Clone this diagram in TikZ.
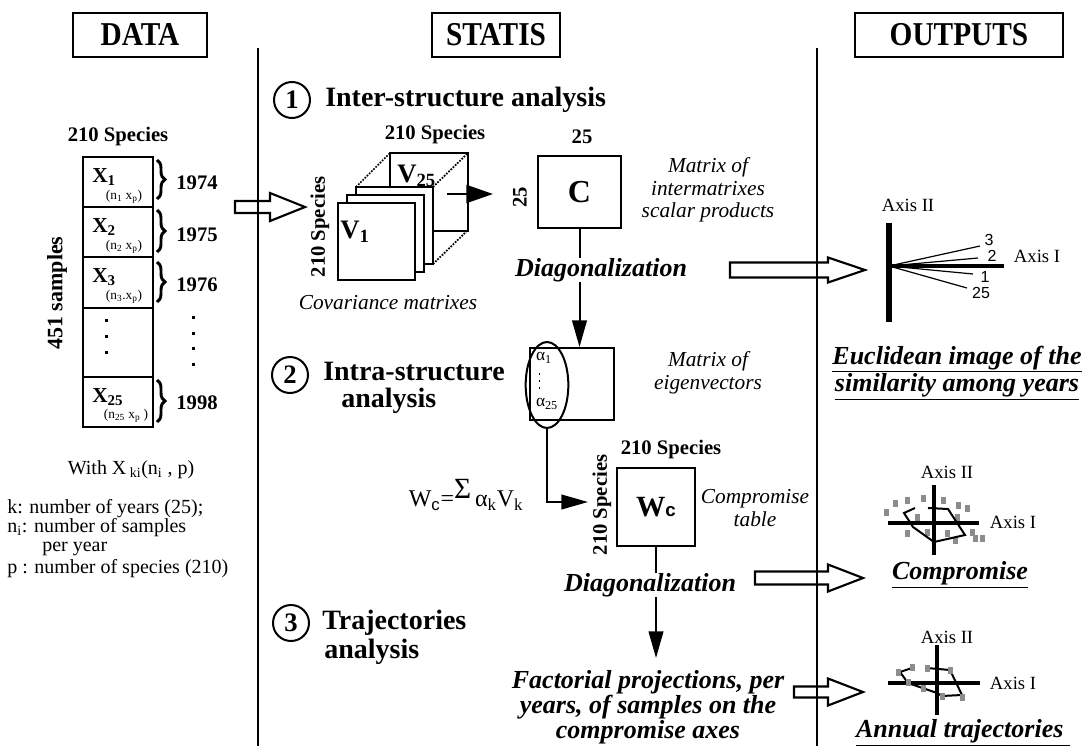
\documentclass[tikz,border=0pt]{standalone}
\usepackage{fontspec}
\setmainfont{Liberation Serif}
\setsansfont{Liberation Sans}
\usepackage{graphicx}
\usetikzlibrary{arrows.meta,shapes.geometric,decorations.pathreplacing}
\newcommand{\fsz}[2]{\fontsize{#1}{#2}\selectfont}
\newcommand{\harrow}[6]{\draw[hollow] (#1,#4-#5) -- (#2,#4-#5) -- (#2,#4-#6) -- (#3,#4) -- (#2,#4+#6) -- (#2,#4+#5) -- (#1,#4+#5) -- cycle;}
\tikzset{
  hdr/.style={draw, line width=1.5pt, inner sep=0pt, minimum height=33pt, font=\fsz{25}{25}\bfseries},
  lbl/.style={inner sep=0pt, font=\fsz{15.5}{18}\bfseries},
  ital/.style={inner sep=0pt, align=center, font=\fsz{16}{17}\itshape},
  bi/.style={inner sep=0pt, align=center, font=\fsz{19.5}{17}\bfseries\itshape},
  bix/.style={inner sep=0pt, align=center, font=\fsz{19.5}{19}\bfseries\itshape},
  box/.style={draw, line width=1.5pt, fill=white, inner sep=0pt},
  num/.style={circle, draw, line width=1.5pt, minimum size=27pt, inner sep=0pt, font=\fsz{20}{20}\bfseries},
  head/.style={inner sep=0pt, anchor=west, font=\fsz{21}{21}\bfseries},
  head2/.style={inner sep=0pt, anchor=north west, align=left, font=\fsz{21}{20.5}\bfseries},
  axisln/.style={line width=3.5pt},
  thinln/.style={line width=0.9pt},
  traj/.style={line width=1.5pt, line join=miter},
  gsq/.style={fill=black!45},
  hollow/.style={draw, line width=1.6pt, fill=white, line join=miter},
  arr/.style={line width=1.5pt, -{Triangle[length=20pt,width=11pt]}},
  axlbl/.style={inner sep=0pt, font=\fsz{14}{14}},
  txt/.style={inner sep=0pt, anchor=west, font=\fsz{15}{15}},
  sml/.style={inner sep=0pt, font=\fsz{10}{10}},
  dotm/.style={fill=black},
  brc/.style={line width=2.2pt, decorate, decoration={brace, amplitude=6pt}},
}
\begin{document}
\begin{tikzpicture}[x=0.75pt,y=-0.75pt]
\useasboundingbox (0,0) rectangle (1085,746);
\fill[white] (0,0) rectangle (1085,746);

% ---------- headers
\node[hdr, minimum width=100pt] (hdata) at (140,35) {\scalebox{0.88}[1]{DATA}};
\node[hdr, minimum width=96pt] (hstatis) at (496,35) {\scalebox{0.88}[1]{STATIS}};
\node[hdr, minimum width=156pt] (houtputs) at (959,35) {\scalebox{0.88}[1]{OUTPUTS}};

% ---------- hollow block arrows (drawn below separators)
\harrow{235}{270}{305}{207}{6}{14}
\harrow{730}{828}{865}{270}{7.5}{12.5}
\harrow{755}{828}{863}{578}{6.5}{13.5}
\harrow{794}{828}{863}{692}{5.5}{13.5}

% ---------- separators
\coordinate (sepAt) at (258,48); \coordinate (sepAb) at (258,746);
\coordinate (sepBt) at (817,48); \coordinate (sepBb) at (817,746);
\draw[line width=1.5pt] (sepAt) -- (sepAb);
\draw[line width=1.5pt] (sepBt) -- (sepBb);

% ---------- DATA column
\node[lbl] (sp0) at (118,137) {210 Species};
\node[box, minimum width=52.5pt, minimum height=37.5pt] (r1) at (118,182) {};
\node[box, minimum width=52.5pt, minimum height=37.5pt] (r2) at (118,232) {};
\node[box, minimum width=52.5pt, minimum height=38.25pt] (r3) at (118,282.5) {};
\node[box, minimum width=52.5pt, minimum height=51.75pt] (r4) at (118,342.5) {};
\node[box, minimum width=52.5pt, minimum height=37.5pt] (r5) at (118,402) {};
\node[inner sep=0pt, anchor=base west, font=\fsz{16}{16}\bfseries] (x1) at (92,182) {X\textsubscript{1}};
\node[inner sep=0pt, anchor=base west, font=\fsz{16}{16}\bfseries] (x2) at (92,232) {X\textsubscript{2}};
\node[inner sep=0pt, anchor=base west, font=\fsz{16}{16}\bfseries] (x3) at (92,282) {X\textsubscript{3}};
\node[inner sep=0pt, anchor=base west, font=\fsz{16}{16}\bfseries] (x25) at (92,402) {X\textsubscript{25}};
\node[sml] (n1) at (124,197) {(n\textsubscript{1} x\textsubscript{p})};
\node[sml] (n2) at (124,247) {(n\textsubscript{2} x\textsubscript{p})};
\node[sml] (n3) at (124,297) {(n\textsubscript{3}.x\textsubscript{p})};
\node[sml] (n25) at (126,416) {(n\textsubscript{25} x\textsubscript{p} )};
\foreach \yy in {320,336,352} \fill[dotm] (104.5,\yy-1.5) rectangle (107.5,\yy+1.5);
\foreach \yy in {317,333,348,364} \fill[dotm] (191.5,\yy-1.5) rectangle (194.5,\yy+1.5);
\coordinate (b1t) at (157,160); \coordinate (b1b) at (157,199);
\coordinate (b2t) at (157,210); \coordinate (b2b) at (157,252);
\coordinate (b3t) at (157,262); \coordinate (b3b) at (157,302);
\coordinate (b5t) at (157,380); \coordinate (b5b) at (157,422);
\draw[brc] (b1t) -- (b1b);
\draw[brc] (b2t) -- (b2b);
\draw[brc] (b3t) -- (b3b);
\draw[brc] (b5t) -- (b5b);
\node[lbl] (y74) at (197,183) {1974};
\node[lbl] (y75) at (197,235) {1975};
\node[lbl] (y76) at (197,285) {1976};
\node[lbl] (y98) at (197,403) {1998};
\node[inner sep=0pt, rotate=90, font=\fsz{16.5}{16.5}\bfseries] (s451) at (57,293) {451 samples};
\node[inner sep=0pt, font=\fsz{15}{15}] (withx) at (131,470) {With X\,\textsubscript{ki}(n\textsubscript{i} , p)};
\node[txt] (tk) at (7,509) {k: number of years (25);};
\node[txt] (tn) at (7,528) {n\textsubscript{i}: number of samples};
\node[txt] (tpy) at (42,549) {per year};
\node[txt] (tp) at (7,569) {p : number of species (210)};

% ---------- STATIS column: section 1
\node[num] (c1) at (292,100) {1};
\node[head] (h1) at (325,100) {Inter-structure analysis};

% covariance stack
\node[box, minimum size=58.5pt] (v25) at (429,191.5) {};
\coordinate (d1a) at (356,187); \coordinate (d1b) at (390,153);
\coordinate (d2a) at (433,187); \coordinate (d2b) at (468,153);
\coordinate (d3a) at (433,264); \coordinate (d3b) at (468,230);
\draw[line width=1.3pt, densely dotted] (d1a) -- (d1b);
\draw[line width=1.3pt, densely dotted] (d2a) -- (d2b);
\draw[line width=1.3pt, densely dotted] (d3a) -- (d3b);
\node[box, minimum size=57.75pt] (v3) at (394.5,225.5) {};
\node[box, minimum size=57.75pt] (v2) at (385.5,233.5) {};
\node[box, minimum size=57.75pt] (v1) at (376.5,241.5) {};
\node[inner sep=0pt, anchor=base west, font=\fsz{20}{20}\bfseries] (lv25) at (397,182) {V\textsubscript{25}};
\node[inner sep=0pt, anchor=base west, font=\fsz{20}{20}\bfseries] (lv1) at (340,238) {V\textsubscript{1}};
\coordinate (stin) at (447,194); \coordinate (stout) at (493,194);
\draw[line width=1.5pt, -{Triangle[length=20pt,width=13.5pt]}] (stin) -- (stout);
\node[lbl] (sp1) at (435,135) {210 Species};
\node[lbl, rotate=90] (sp1r) at (320,227) {210 Species};
\node[ital] (cov) at (388,303) {Covariance matrixes};

% C matrix
\node[box, minimum width=62.25pt, minimum height=54pt, font=\fsz{24}{24}\bfseries] (cbox) at (579.5,192) {C};
\node[lbl] (c25t) at (582,137) {25};
\node[lbl, rotate=90] (c25l) at (520,197) {25};
\node[ital] (mint) at (708,190) {Matrix of\\intermatrixes\\scalar products};
\node[bi] (diag1) at (601,270) {Diagonalization};
\draw[line width=1.5pt] (cbox.south) -- (cbox.south |- diag1.north);

% eigenvector matrix
\node[box, minimum width=63pt, minimum height=54pt] (eig) at (572,384) {};
\draw[arr] (cbox.south |- diag1.south) -- (cbox.south |- eig.north);
\node[ellipse, draw, line width=1.5pt, minimum width=32pt, minimum height=64.5pt, inner sep=0pt] (ell) at (547,385) {};
\node[inner sep=0pt, font=\fsz{13}{13}] (a1) at (544,358) {α\textsubscript{1}};
\foreach \yy in {374,381,388} \fill[dotm] (538.5,\yy-0.8) rectangle (540.2,\yy+0.8);
\node[inner sep=0pt, font=\fsz{13}{13}] (a25) at (547,404) {α\textsubscript{25}};
\node[ital] (meig) at (708,373) {Matrix of\\eigenvectors};

% section 2
\node[num] (c2) at (290,375) {2};
\node[head2] (h2) at (323,362) {Intra-structure\\\hspace*{13.5pt}analysis};

% Wc
\node[box, minimum width=58.5pt, minimum height=58.5pt] (wc) at (656,507) {\fsz{22}{22}\bfseries W\fsz{14}{14}\sffamily c};
\coordinate (wcin) at (588,502);
\draw[arr] (ell.south) -- (ell.south |- wcin) -- (wcin);
\node[inner sep=0pt, font=\fsz{18}{18}] (form) at (466,495) {W\textsubscript{\sffamily c}=\raisebox{6pt}{\fsz{22}{22}Σ}\,α\textsubscript{k}V\textsubscript{k}};
\node[lbl] (sp2) at (671,450) {210 Species};
\node[lbl, rotate=90] (sp2r) at (602,505) {210 Species};
\node[ital] (ctab) at (755,508) {Compromise\\table};
\node[bi] (diag2) at (650,585) {Diagonalization};
\draw[line width=1.5pt] (wc.south) -- (wc.south |- diag2.north);
\coordinate (ftip) at (wc.south |- 0,658);
\draw[arr] (wc.south |- diag2.south) -- (ftip);
\node[bi] (fact) at (648,707) {Factorial projections, per\\years, of samples on the\\compromise axes};

% section 3
\node[num] (c3) at (291,623) {3};
\node[head2, font=\fsz{21}{21.5}\bfseries] (h3) at (322,610) {Trajectories\\\hspace*{1.5pt}analysis};

% ---------- OUTPUTS: Euclidean image
\coordinate (eo) at (889,266);
\coordinate (e3) at (980,246); \coordinate (e2) at (978,258);
\coordinate (e1) at (973,274); \coordinate (e25) at (967,288);
\draw[thinln] (eo) -- (e3);
\draw[thinln] (eo) -- (e2);
\draw[thinln] (eo) -- (e1);
\draw[thinln] (eo) -- (e25);
\coordinate (evt) at (889,223); \coordinate (evb) at (889,322);
\coordinate (ehr) at (1004,266);
\draw[line width=3.8pt] (evt) -- (evb);
\draw[line width=3.2pt] (eo) -- (ehr);
\node[inner sep=0pt, font=\fsz{12}{12}\sffamily] (l3) at (989,240) {3};
\node[inner sep=0pt, font=\fsz{12}{12}\sffamily] (l2) at (992,256) {2};
\node[inner sep=0pt, font=\fsz{12}{12}\sffamily] (l1) at (985,277) {1};
\node[inner sep=0pt, font=\fsz{12}{12}\sffamily] (l25) at (981,293) {25};
\node[axlbl] (eax2) at (908,205) {Axis II};
\node[axlbl] (eax1) at (1037,256) {Axis I};
\node[bix] (eucl) at (957,373) {\underline{Euclidean image of the}\\\underline{similarity among years}};

% ---------- Compromise plot
\foreach \xx/\yy in {886/512,895/503,907/500,923/498,943/500,958/505,967/508,917/517,957/517,907/533,927/532,947/533,955/540,972/532,975/538,982/538}
  \fill[gsq] (\xx-2.5,\yy-3.5) rectangle (\xx+2.5,\yy+3.5);
\coordinate (cvt) at (934,485); \coordinate (cvb) at (934,555);
\coordinate (chl) at (888,523); \coordinate (chr) at (979,523);
\draw[axisln] (cvt) -- (cvb);
\draw[axisln] (chl) -- (chr);
\coordinate (ct1) at (915,508); \coordinate (ct2) at (904,513); \coordinate (ct3) at (913,527);
\coordinate (ct4) at (934,542); \coordinate (ct5) at (965,535); \coordinate (ct6) at (948,509);
\coordinate (ct7) at (928,508);
\draw[traj] (ct1) -- (ct2) -- (ct3) -- (ct4) -- (ct5) -- (ct6) -- (ct7);
\node[axlbl] (cax2) at (947,472) {Axis II};
\node[axlbl] (cax1) at (1013,522) {Axis I};
\node[bix] (comp) at (960,575) {\underline{Compromise}};

% ---------- Annual trajectories plot
\coordinate (avt) at (937,645); \coordinate (avb) at (937,715);
\coordinate (ahl) at (888,683); \coordinate (ahr) at (980,683);
\draw[axisln] (avt) -- (avb);
\draw[axisln] (ahl) -- (ahr);
\coordinate (at1) at (912,668); \coordinate (at2) at (900,672); \coordinate (at3) at (908,683);
\coordinate (at4) at (937,693); \coordinate (at5) at (942,696); \coordinate (at6) at (962,695);
\coordinate (at7) at (950,670); \coordinate (at8) at (927,668);
\draw[traj] (at1) -- (at2) -- (at3) -- (at4) -- (at5) -- (at6) -- (at7) -- (at8);
\foreach \xx/\yy in {898/672,912/667,908/682,927/668,950/670,923/688,942/696,962/697}
  \fill[gsq] (\xx-2.5,\yy-3.5) rectangle (\xx+2.5,\yy+3.5);
\node[axlbl] (aax2) at (947,637) {Axis II};
\node[axlbl] (aax1) at (1013,683) {Axis I};
\node[bix] (annu) at (963,733) {\underline{Annual trajectories\ }};
\end{tikzpicture}
\end{document}
